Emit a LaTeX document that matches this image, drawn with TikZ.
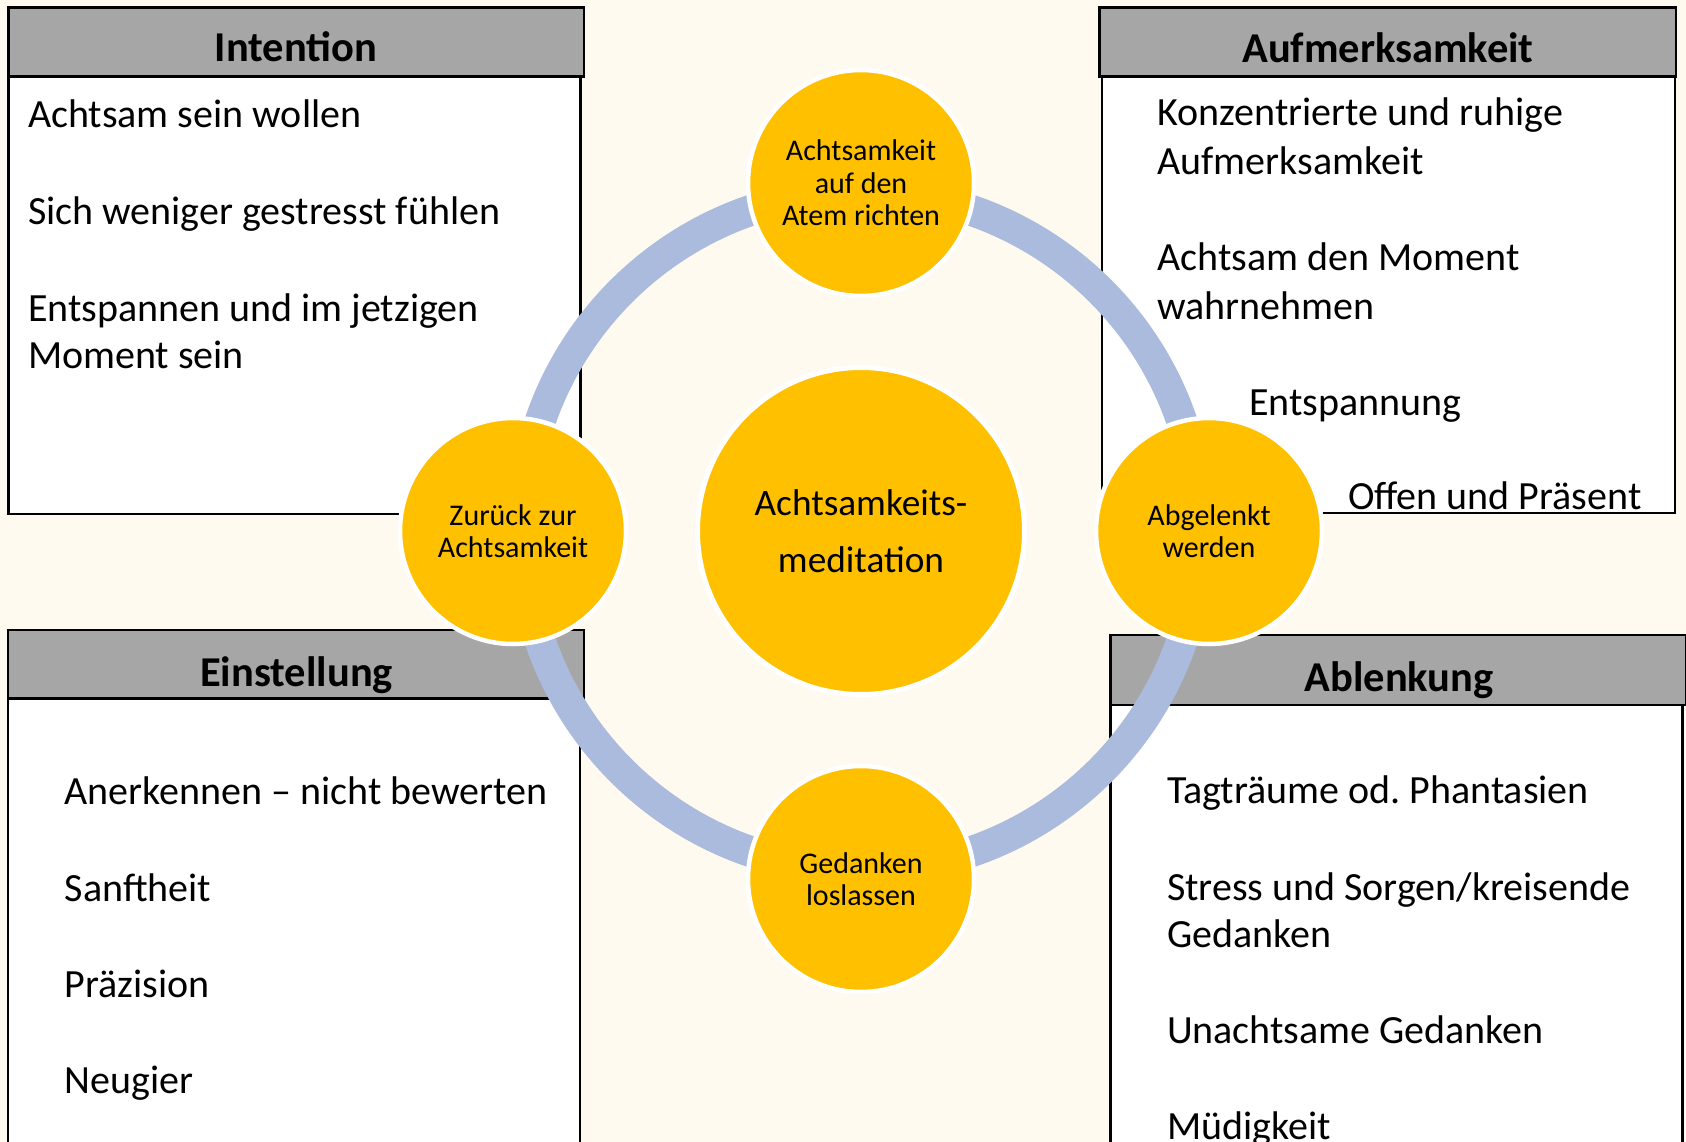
\documentclass[tikz,border=0pt]{standalone}
\usepackage{fontspec}
\setmainfont{Carlito}
\usetikzlibrary{positioning}
\definecolor{cream}{RGB}{255,250,240}
\definecolor{headgray}{RGB}{166,166,166}
\definecolor{sun}{RGB}{255,192,0}
\definecolor{ringblue}{RGB}{170,187,221}
\frenchspacing

\begin{document}
\begin{tikzpicture}[x=1pt, y=-1pt, node distance=348pt, on grid,
      every node/.append style={inner sep=0pt,outer sep=0pt},
      head/.style={draw=black,line width=2.5pt,fill=headgray},
      body/.style={draw=black,line width=2.5pt,fill=white},
      phase/.style={circle,fill=sun,draw=white,line width=4.5pt,minimum size=226pt,
        align=center,font=\fontsize{30}{32.5}\selectfont},
      core/.style={circle,fill=sun,draw=white,line width=5pt,minimum size=327pt,
        align=center,font=\fontsize{37.3}{56.7}\selectfont}]
    \tikzstyle{title} = [anchor=base,font=\bfseries\fontsize{42.5}{50}\selectfont]
    \tikzstyle{word} = [anchor=base west,font=\fontsize{40}{47.5}\selectfont]
    \useasboundingbox (0,0) rectangle (1686,1142);
    \clip (0,0) rectangle (1686,1142);
    \fill[cream] (0,0) rectangle (1686,1142);

    \draw[body] (8.6,76.3) rectangle (580.6,514);
    \draw[head] (8.6,7.5) rectangle (583.9,76.3);
    \draw[body] (1102,76.3) rectangle (1675,513);
    \draw[head] (1099.5,7.5) rectangle (1676,76.3);
    \draw[body] (8,698.7) rectangle (580,1170);
    \draw[head] (8,630) rectangle (584,698.7);
    \draw[body] (1110.7,705) rectangle (1682.7,1170);
    \draw[head] (1110.7,635) rectangle (1686,705);

    \node[title] (Intention) at (296,62) {Intention};
    \node[title] (Aufmerksamkeit) at (1388,63) {Aufmerksamkeit};
    \node[title] (Einstellung) at (296.5,686.5) {Einstellung};
    \node[title] (Ablenkung) at (1399,691) {Ablenkung};

    \foreach \x/\y/\t [count=\i] in {28/128/Achtsam sein wollen,
        28/224.5/Sich weniger gestresst fühlen, 28/321/Entspannen und im jetzigen,
        28/368.5/Moment sein}
      \node[word] (intention-\i) at (\x,\y) {\t};
    \foreach \x/\y/\t [count=\i] in {1157.5/126/Konzentrierte und ruhige,
        1157.5/175/Aufmerksamkeit, 1157.5/270.5/Achtsam den Moment,
        1157.5/319/wahrnehmen, 1249/415.5/Entspannung, 1348/509.5/Offen und Präsent}
      \node[word] (aufmerksamkeit-\i) at (\x,\y) {\t};
    \foreach \x/\y/\t [count=\i] in {64.7/804.5/Anerkennen – nicht bewerten,
        64.7/901/Sanftheit, 64.7/997/Präzision, 64.7/1093/Neugier}
      \node[word] (einstellung-\i) at (\x,\y) {\t};
    \foreach \x/\y/\t [count=\i] in {1167/803.5/Tagträume od. Phantasien,
        1167/900/{Stress und Sorgen/kreisende}, 1167/947.5/Gedanken,
        1167/1043.5/Unachtsame Gedanken, 1167/1139.5/Müdigkeit}
      \node[word] (ablenkung-\i) at (\x,\y) {\t};

    \node[core] (Meditation) at (861,531) {Achtsamkeits-\\meditation};
    \draw[ringblue,line width=31pt] (Meditation.center) circle[radius=339pt];
    \node[phase] (Atem) [above=of Meditation] {Achtsamkeit\\auf den\\Atem richten};
    \node[phase] (Abgelenkt) [right=of Meditation] {Abgelenkt\\werden};
    \node[phase] (Loslassen) [below=of Meditation] {Gedanken\\loslassen};
    \node[phase] (Zurueck) [left=of Meditation] {Zurück zur\\Achtsamkeit};
\end{tikzpicture}
\end{document}
